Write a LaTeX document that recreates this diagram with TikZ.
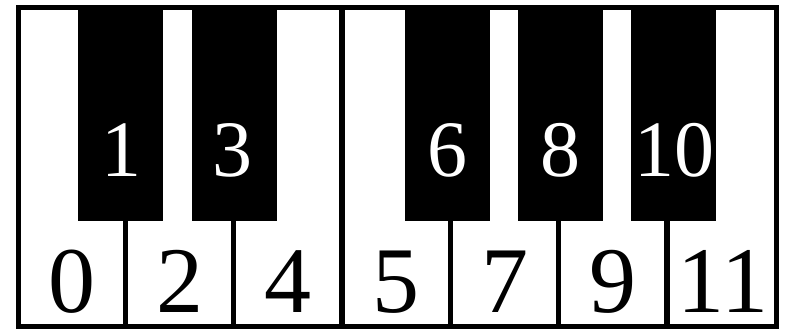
\documentclass[tikz,border=0pt]{standalone}
\usepackage{fontspec}
\setmainfont{Liberation Serif}
\begin{document}
\begin{tikzpicture}[x=1pt,y=-1pt,
  blackkey/.style={fill=black, draw=none, inner sep=0pt, minimum width=85pt, minimum height=211pt, anchor=north west},
  toplabel/.style={text=white, inner sep=0pt, font=\fontsize{80}{80}\selectfont, anchor=base},
  botlabel/.style={text=black, inner sep=0pt, font=\fontsize{94}{94}\selectfont, anchor=base},
  divider/.style={line width=5.5pt},
  frame/.style={line width=5pt}]
\useasboundingbox (0,0) rectangle (792,329);
% white keys frame
\draw[frame] (18.5,7.5) rectangle (776,326.5);
% dividers between white keys
\draw[divider] (125.5,219) -- (125.5,326.5);
\draw[divider] (233.7,219) -- (233.7,326.5);
\draw[divider] (342,7.5) -- (342,326.5);
\draw[divider] (450.7,219) -- (450.7,326.5);
\draw[divider] (558.7,219) -- (558.7,326.5);
\draw[divider] (667,219) -- (667,326.5);
% black keys
\node[blackkey] (k1) at (78,10) {};
\node[blackkey] (k3) at (192,10) {};
\node[blackkey] (k6) at (405,10) {};
\node[blackkey] (k8) at (517.5,10) {};
\node[blackkey] (k10) at (631,10) {};
% black key labels
\node[toplabel] (l1) at (121,176) {1};
\node[toplabel] (l3) at (232,176) {3};
\node[toplabel] (l6) at (447,176) {6};
\node[toplabel] (l8) at (560,176) {8};
\node[toplabel] (l10) at (674,176) {10};
% white key labels
\node[botlabel] (l0) at (72,312) {0};
\node[botlabel] (l2) at (179.6,312) {2};
\node[botlabel] (l4) at (287.9,312) {4};
\node[botlabel] (l5) at (396.4,312) {5};
\node[botlabel] (l7) at (504.7,312) {7};
\node[botlabel] (l9) at (612.9,312) {9};
\node[botlabel] (l11) at (723,312) {11};
\end{tikzpicture}
\end{document}
